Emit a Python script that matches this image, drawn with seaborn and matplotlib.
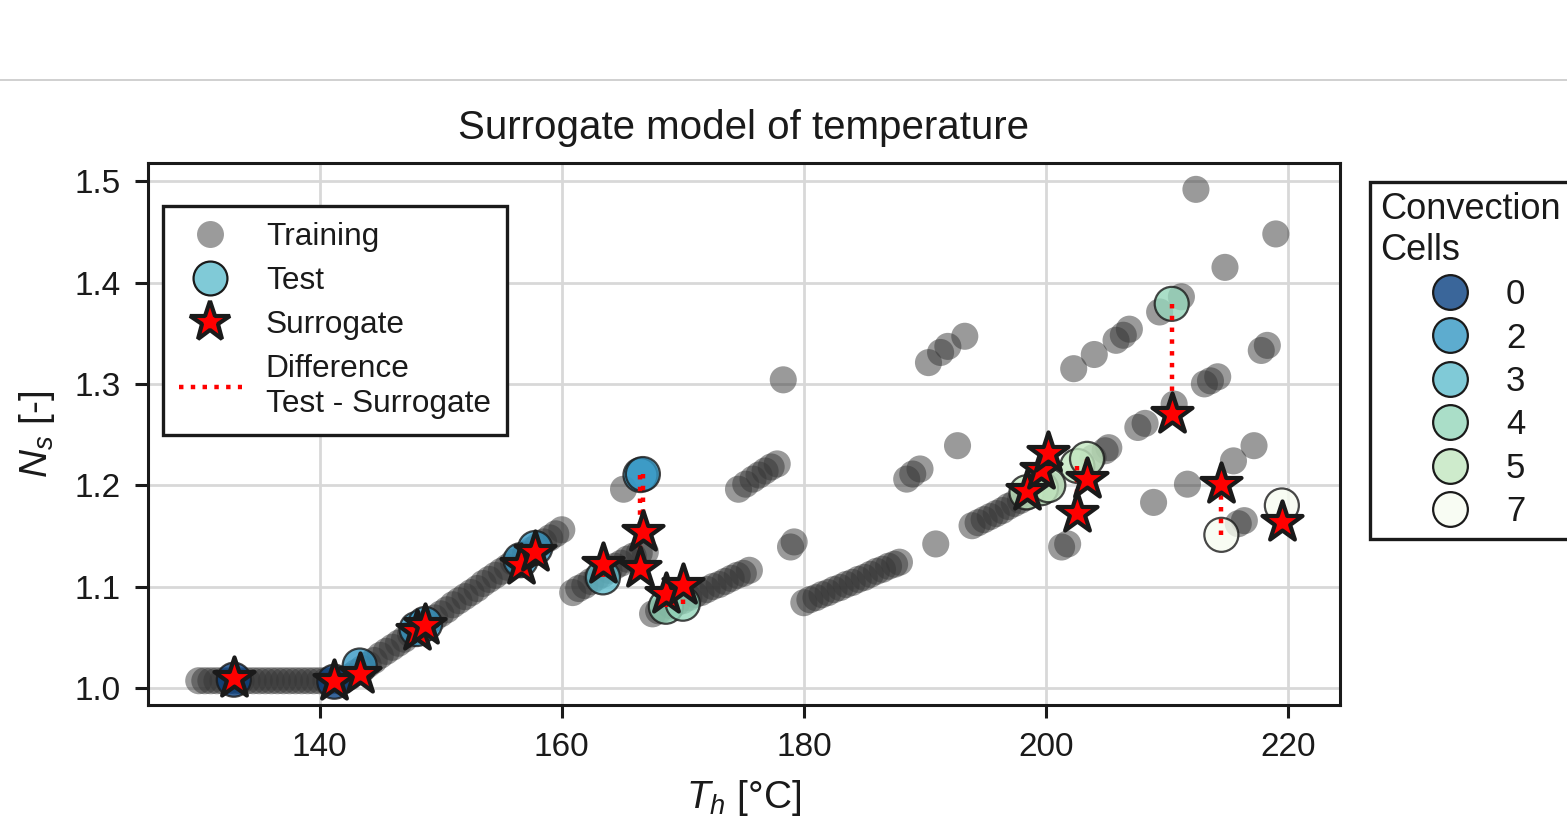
import numpy as np
import matplotlib.pyplot as plt
import matplotlib as mpl
from matplotlib.lines import Line2D
import seaborn as sns

# training samples (T_h, N_s)
train_T = [130.0, 130.5, 131.0, 131.5, 132.0, 132.5, 133.0, 133.5, 134.0, 134.5, 135.0, 135.5, 136.0,
           136.5, 137.0, 137.5, 138.0, 138.5, 139.0, 139.5, 140.0, 140.5, 141.0, 141.5, 142.0,
           142.5, 143.0, 143.5, 144.0, 144.5, 145.0, 145.5, 146.0, 146.5, 147.0, 147.5, 148.0,
           148.5, 149.0, 149.5, 150.0, 150.5, 151.0, 151.5, 152.0, 152.5, 153.0, 153.5, 154.0,
           154.5, 155.0, 155.5, 156.0, 156.5, 157.0, 157.5, 158.0, 158.5, 159.0, 159.5, 160.0,
           160.9, 161.4, 161.9, 162.4, 162.9, 163.4, 163.9, 164.4, 164.9, 165.4, 165.9, 166.4, 166.9,
           165.1,
           167.5, 168.0, 168.5, 169.0, 169.5, 170.0, 170.5, 171.0, 171.5, 172.0, 172.5, 173.0,
           173.5, 174.0, 174.5, 175.0, 175.5,
           174.6, 175.2, 175.8, 176.3, 176.8, 177.3, 177.8,
           178.3, 178.9, 179.2,
           180.0, 180.5, 181.0, 181.5, 182.0, 182.5, 183.0, 183.5, 184.0, 184.5, 185.0, 185.5,
           186.0, 186.5, 187.0, 187.5, 187.9,
           190.9, 188.5, 189.0, 189.6, 192.7,
           190.3, 191.3, 191.9, 193.3,
           193.9, 194.4, 194.9, 195.4, 195.9, 196.4, 196.9, 197.4, 197.9, 198.4, 198.9, 199.4,
           199.9, 200.4, 203.9,
           204.9, 205.2, 207.6, 208.2, 210.6, 213.1, 213.6, 214.2,
           202.3, 204.0, 205.8, 206.4, 206.9,
           209.4, 211.2, 212.4, 214.8, 219.0, 217.8, 218.3, 217.2, 215.5, 211.7, 208.9, 215.9,
           216.4, 201.3, 201.8]
train_N = [1.007, 1.007, 1.007, 1.007, 1.007, 1.007, 1.007, 1.007, 1.007, 1.007, 1.007, 1.007, 1.007,
           1.007, 1.007, 1.007, 1.007, 1.007, 1.007, 1.007, 1.007, 1.007, 1.007, 1.007, 1.008,
           1.011, 1.015, 1.019, 1.023, 1.027, 1.032, 1.036, 1.040, 1.044, 1.048, 1.053, 1.057,
           1.061, 1.065, 1.069, 1.073, 1.077, 1.082, 1.086, 1.090, 1.094, 1.098, 1.103, 1.107,
           1.111, 1.115, 1.119, 1.124, 1.128, 1.132, 1.136, 1.140, 1.144, 1.148, 1.152, 1.156,
           1.094, 1.098, 1.101, 1.105, 1.109, 1.112, 1.116, 1.120, 1.123, 1.127, 1.130, 1.133, 1.134,
           1.196,
           1.073, 1.076, 1.078, 1.081, 1.084, 1.086, 1.089, 1.092, 1.094, 1.097, 1.100, 1.102,
           1.105, 1.108, 1.111, 1.113, 1.116,
           1.196, 1.201, 1.206, 1.210, 1.214, 1.218, 1.221,
           1.304, 1.139, 1.144,
           1.084, 1.087, 1.089, 1.092, 1.094, 1.097, 1.099, 1.102, 1.104, 1.107, 1.109, 1.112,
           1.115, 1.117, 1.120, 1.122, 1.124,
           1.142, 1.206, 1.211, 1.216, 1.239,
           1.321, 1.331, 1.337, 1.347,
           1.160, 1.163, 1.166, 1.169, 1.172, 1.175, 1.179, 1.182, 1.185, 1.188, 1.191, 1.194,
           1.197, 1.200, 1.227,
           1.234, 1.237, 1.257, 1.261, 1.280, 1.300, 1.303, 1.307,
           1.315, 1.329, 1.343, 1.348, 1.354,
           1.371, 1.386, 1.492, 1.415, 1.448, 1.333, 1.338, 1.239, 1.224, 1.201, 1.183, 1.162,
           1.165, 1.139, 1.142]

# test samples, their convection cell count and the surrogate prediction
test_T = [132.9, 141.2, 143.3, 148.0, 148.7, 156.6, 157.8, 163.4, 166.5, 166.7,
          168.6, 170.0, 198.4, 199.6, 200.2, 202.6, 203.4, 210.4, 214.5, 219.5]
test_N = [1.008, 1.006, 1.022, 1.058, 1.063, 1.126, 1.138, 1.109, 1.210, 1.211,
          1.080, 1.083, 1.193, 1.197, 1.200, 1.219, 1.226, 1.379, 1.151, 1.180]
test_cells = [0, 0, 2, 2, 2, 2, 2, 3, 2, 2,
              4, 4, 5, 5, 5, 5, 5, 4, 7, 7]
surr_N = [1.010, 1.007, 1.014, 1.056, 1.062, 1.121, 1.134, 1.122, 1.118, 1.154,
          1.093, 1.101, 1.194, 1.215, 1.232, 1.173, 1.206, 1.270, 1.201, 1.164]

cell_levels = [0, 2, 3, 4, 5, 7]

sns.set_theme(style="ticks")
plt.rcParams['font.family'] = ['Liberation Sans', 'DejaVu Sans']
plt.rcParams['mathtext.fontset'] = 'custom'
plt.rcParams['mathtext.rm'] = 'Liberation Sans'
plt.rcParams['mathtext.it'] = 'Liberation Sans:italic'
for key in ['text.color', 'axes.labelcolor', 'xtick.color', 'ytick.color']:
    plt.rcParams[key] = 'k'

fig = plt.figure(figsize=(7.835, 4.09), dpi=200)
ax = fig.add_axes([0.0944, 0.1381, 0.7607, 0.6626])

cmap = sns.color_palette("GnBu_r", as_cmap=True)
norm = mpl.colors.Normalize(0, 7)
t_alpha = 0.8

sns.scatterplot(x=train_T, y=train_N, color='#363636', alpha=0.5, s=95, edgecolor='none',
                ax=ax, legend=False, zorder=2)
sns.scatterplot(x=test_T, y=test_N, hue=test_cells, palette=cmap, hue_norm=norm, s=150,
                edgecolor='k', linewidth=0.8, alpha=t_alpha, ax=ax, legend=False, zorder=3)
ax.vlines(test_T, test_N, surr_N, colors='red', linestyles=':', lw=1.6, zorder=4)
sns.scatterplot(x=test_T, y=surr_N, marker='*', color='red', s=230, edgecolor='k',
                linewidth=1.5, ax=ax, legend=False, zorder=5)

ax.set_xlim(125.8, 224.3)
ax.set_ylim(0.983, 1.518)
ax.set_xticks([140, 160, 180, 200, 220])
ax.set_yticks([1.0, 1.1, 1.2, 1.3, 1.4, 1.5])
ax.grid(True, color='#d8d8d8', lw=1.0)
ax.set_axisbelow(True)
for sp in ax.spines.values():
    sp.set_color('k')
    sp.set_linewidth(1.1)
ax.tick_params(labelsize=12, width=1.1, length=4.7, pad=5, color='k')

ax.set_title('Surrogate model of temperature', fontsize=14.5, pad=8.5)
ax.set_xlabel(r'$T_h$ [°C]', fontsize=14, labelpad=5.5)
ax.set_ylabel(r'$N_s$ [-]', fontsize=14, labelpad=6.5)

# left legend: marker types
h_train = Line2D([], [], marker='o', ls='', markerfacecolor='#9b9b9b', markeredgecolor='none', markersize=9.7)
c3 = mpl.colors.to_rgba(cmap(norm(3)), t_alpha)
h_test = Line2D([], [], marker='o', ls='', markerfacecolor=c3, markeredgecolor='k', markeredgewidth=0.8, markersize=12.2)
h_surr = Line2D([], [], marker='*', ls='', markerfacecolor='red', markeredgecolor='k', markeredgewidth=1.5, markersize=15)
h_diff = Line2D([], [], color='red', ls=':', lw=1.6)
leg1 = ax.legend([h_train, h_test, h_surr, h_diff],
                 ['Training', 'Test', 'Surrogate', 'Difference\nTest - Surrogate'],
                 loc='upper left', bbox_to_anchor=(0.0126, 0.921), borderaxespad=0,
                 fontsize=11.4, fancybox=False, framealpha=1, edgecolor='k',
                 handlelength=2.0, handletextpad=0.75, labelspacing=0.45, borderpad=0.5)
leg1.get_frame().set_linewidth(1.2)
ax.add_artist(leg1)

# right legend: convection cells
cell_handles = [Line2D([], [], marker='o', ls='', markerfacecolor=mpl.colors.to_rgba(cmap(norm(v)), t_alpha),
                       markeredgecolor='k', markeredgewidth=0.8, markersize=12.5) for v in cell_levels]
leg2 = ax.legend(cell_handles, [str(v) for v in cell_levels], title='Convection\nCells',
                 loc='upper left', bbox_to_anchor=(1.025, 0.965), borderaxespad=0,
                 fontsize=12.5, title_fontsize=13, fancybox=False, framealpha=1, edgecolor='k',
                 labelspacing=0.3, borderpad=0.3, handletextpad=0.6)
leg2.get_title().set_multialignment('left')
leg2.get_frame().set_linewidth(1.2)

fig.add_artist(Line2D([0, 1], [0.902, 0.902], transform=fig.transFigure, color='#d0d0d0', lw=0.7))

fig.savefig('out.png', dpi=200)
